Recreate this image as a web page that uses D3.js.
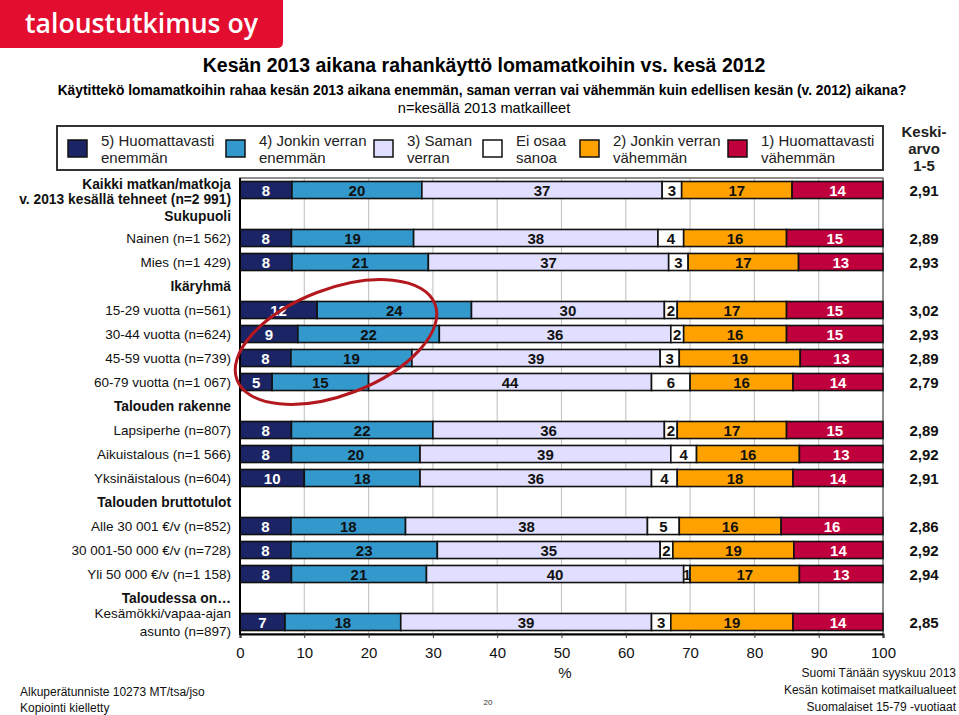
<!DOCTYPE html>
<html><head><meta charset="utf-8">
<script src="https://cdn.jsdelivr.net/npm/d3@7"></script>
<style>
body{margin:0;background:#fff;}
svg{display:block;font-family:"Liberation Sans",Arial,sans-serif;}
</style></head>
<body><svg id="c" width="959" height="715"></svg>
<script>
// ---------- DATA ----------
const rowOrder = ["Kaikki","Sukupuoli","Nainen","Mies","Ikäryhmä","15-29","30-44","45-59","60-79",
  "Talouden rakenne","Lapsiperhe","Aikuistalous","Yksinäistalous","Talouden bruttotulot",
  "Alle 30 001","30 001-50 000","Yli 50 000","Taloudessa on…","Kesämökki"];
const headerRows = ["Sukupuoli","Ikäryhmä","Talouden rakenne","Talouden bruttotulot","Taloudessa on…"];
const categories = ["Kaikki","Nainen","Mies","15-29","30-44","45-59","60-79","Lapsiperhe","Aikuistalous",
  "Yksinäistalous","Alle 30 001","30 001-50 000","Yli 50 000","Kesämökki"];
const categoryLabels = [
  ["Kaikki matkan/matkoja","v. 2013 kesällä tehneet (n=2 991)"],
  ["Nainen (n=1 562)"],["Mies (n=1 429)"],
  ["15-29 vuotta (n=561)"],["30-44 vuotta (n=624)"],["45-59 vuotta (n=739)"],["60-79 vuotta (n=1 067)"],
  ["Lapsiperhe (n=807)"],["Aikuistalous (n=1 566)"],["Yksinäistalous (n=604)"],
  ["Alle 30 001 €/v (n=852)"],["30 001-50 000 €/v (n=728)"],["Yli 50 000 €/v (n=1 158)"],
  ["Kesämökki/vapaa-ajan","asunto (n=897)"]];
const s5   = [8,8,8,12,9,8,5,8,8,10,8,8,8,7];
const s4   = [20,19,21,24,22,19,15,22,20,18,18,23,21,18];
const s3   = [37,38,37,30,36,39,44,36,39,36,38,35,40,39];
const sEos = [3,4,3,2,2,3,6,2,4,4,5,2,1,3];
const s2   = [17,16,17,17,16,19,16,17,16,18,16,19,17,19];
const s1   = [14,15,13,15,15,13,14,15,13,14,16,14,13,14];
const means = ["2,91","2,89","2,93","3,02","2,93","2,89","2,79","2,89","2,92","2,91","2,86","2,92","2,94","2,85"];
const seriesNames = ["5) Huomattavasti|enemmän","4) Jonkin verran|enemmän","3) Saman|verran","Ei osaa|sanoa","2) Jonkin verran|vähemmän","1) Huomattavasti|vähemmän"];
const seriesColors = ["#1b2464","#3399cc","#e1dfff","#ffffff","#ffa200","#c0003c"];
const labelColors = ["#fff","#111","#111","#111","#111","#fff"];
const xTicks = [0,10,20,30,40,50,60,70,80,90,100];

// ---------- CHART ----------
const svg = d3.select("#c");
const keys = ["s5","s4","s3","sEos","s2","s1"];
const table = categories.map((c,i)=>({cat:c,s5:s5[i],s4:s4[i],s3:s3[i],sEos:sEos[i],s2:s2[i],s1:s1[i]}));
const stacked = d3.stack().keys(keys).offset(d3.stackOffsetExpand)(table);

const x = d3.scaleLinear().domain([0,1]).range([240,883]);
const xAx = d3.scaleLinear().domain([0,100]).range([240,883]);
const y = d3.scaleBand().domain(rowOrder).range([178,634]).paddingInner(0.29).paddingOuter(0.145);
const yc = r => y(r)+y.bandwidth()/2;

// Logo
svg.append("path").attr("d","M0,0H283V42Q283,48 277,48H0Z").attr("fill","#e30d2f");
svg.append("text").attr("x",25).attr("y",33).attr("fill","#fff")
  .attr("font-family","'Open Sans',sans-serif").attr("font-weight",600).attr("font-size",27)
  .attr("textLength",233).attr("lengthAdjust","spacingAndGlyphs").text("taloustutkimus oy");

// Titles
svg.append("text").attr("x",484).attr("y",72).attr("text-anchor","middle").attr("font-weight","bold")
  .attr("font-size",19.5).text("Kesän 2013 aikana rahankäyttö lomamatkoihin vs. kesä 2012");
svg.append("text").attr("x",482).attr("y",95).attr("text-anchor","middle").attr("font-weight","bold")
  .attr("font-size",13.8).text("Käytittekö lomamatkoihin rahaa kesän 2013 aikana enemmän, saman verran vai vähemmän kuin edellisen kesän (v. 2012) aikana?");
svg.append("text").attr("x",484).attr("y",113).attr("text-anchor","middle")
  .attr("font-size",14.6).text("n=kesällä 2013 matkailleet");

// Legend
svg.append("rect").attr("x",57).attr("y",126).attr("width",826).attr("height",44)
  .attr("fill","#fff").attr("stroke","#333").attr("stroke-width",2);
const legX = [68,226,374,483,580,728];
seriesNames.forEach((n,i)=>{
  const g = svg.append("g");
  g.append("rect").attr("x",legX[i]).attr("y",140).attr("width",19).attr("height",17)
    .attr("fill",seriesColors[i]).attr("stroke","#111").attr("stroke-width",1.5);
  n.split("|").forEach((t,j)=>{
    g.append("text").attr("x",legX[i]+33).attr("y",146+j*17).attr("font-size",15).attr("fill","#222").text(t);
  });
});
["Keski-","arvo","1-5"].forEach((t,j)=>{
  svg.append("text").attr("x",924).attr("y",137+j*17).attr("text-anchor","middle")
    .attr("font-weight","bold").attr("font-size",15).attr("fill","#222").text(t);
});

// Gridlines
svg.append("g").selectAll("line").data(xTicks.slice(1,-1)).join("line")
  .attr("x1",d=>xAx(d)).attr("x2",d=>xAx(d)).attr("y1",178).attr("y2",634)
  .attr("stroke","#c8c8c8").attr("stroke-width",1.2);
svg.append("rect").attr("x",240).attr("y",178).attr("width",643).attr("height",456)
  .attr("fill","none").attr("stroke","#444").attr("stroke-width",1.2);

// Bars
const gBars = svg.append("g");
stacked.forEach((layer,k)=>{
  gBars.append("g").selectAll("rect").data(layer).join("rect")
    .attr("x",d=>x(d[0])).attr("width",d=>x(d[1])-x(d[0]))
    .attr("y",d=>y(d.data.cat)).attr("height",y.bandwidth())
    .attr("fill",seriesColors[k]).attr("stroke","#111").attr("stroke-width",1.6);
});
stacked.forEach((layer,k)=>{
  gBars.append("g").selectAll("text").data(layer).join("text")
    .attr("x",d=>(x(d[0])+x(d[1]))/2).attr("y",d=>yc(d.data.cat)+5.5)
    .attr("text-anchor","middle").attr("font-weight","bold").attr("font-size",15)
    .attr("fill",labelColors[k]).text(d=>d.data[keys[k]]);
});

// Axis
const axis = d3.axisBottom(xAx).tickValues(xTicks).tickSize(4).tickFormat(d3.format("d"));
const ga = svg.append("g").attr("transform","translate(0,634)").call(axis);
ga.select(".domain").attr("stroke","#000").attr("stroke-width",2);
ga.selectAll(".tick line").attr("stroke","#333");
ga.selectAll("text").attr("font-size",15).attr("fill","#111").attr("font-family","'Liberation Sans',Arial,sans-serif").attr("dy","1.1em");
svg.append("line").attr("x1",240).attr("x2",240).attr("y1",178).attr("y2",635).attr("stroke","#000").attr("stroke-width",2);
svg.append("text").attr("x",565).attr("y",678).attr("text-anchor","middle").attr("font-size",15).attr("fill","#111").text("%");

// Category labels
categories.forEach((c,i)=>{
  const lines = categoryLabels[i];
  const bold = i===0;
  const off = lines.length===1 ? [5] : (bold ? [-1,14] : [-4,14]);
  lines.forEach((t,j)=>{
    svg.append("text").attr("x",231).attr("y",yc(c)+off[j]).attr("text-anchor","end")
      .attr("font-size",bold?13.8:13.5).attr("font-weight",bold?"bold":"normal").attr("fill","#111").text(t);
  });
  svg.append("text").attr("x",924).attr("y",yc(c)+5.5).attr("text-anchor","middle")
    .attr("font-weight","bold").attr("font-size",15).attr("fill","#111").text(means[i]);
});
headerRows.forEach(h=>{
  svg.append("text").attr("x",231).attr("y",yc(h)+(h==="Sukupuoli"?7:5)).attr("text-anchor","end")
    .attr("font-size",13.8).attr("font-weight","bold").attr("fill","#111").text(h);
});

// Annotation ellipse
svg.append("ellipse").attr("cx",336).attr("cy",342).attr("rx",106).attr("ry",53)
  .attr("transform","rotate(-21,336,342)").attr("fill","none").attr("stroke","#b3181f").attr("stroke-width",3);

// Footer
svg.append("text").attr("x",20).attr("y",696).attr("font-size",12).attr("fill","#111").text("Alkuperätunniste 10273 MT/tsa/jso");
svg.append("text").attr("x",20).attr("y",712).attr("font-size",12).attr("fill","#111").text("Kopiointi kielletty");
svg.append("text").attr("x",488).attr("y",705).attr("text-anchor","middle").attr("font-size",8).attr("fill","#333").text("20");
["Suomi Tänään syyskuu 2013","Kesän kotimaiset matkailualueet","Suomalaiset 15-79 -vuotiaat"].forEach((t,j)=>{
  svg.append("text").attr("x",956).attr("y",677+j*17).attr("text-anchor","end").attr("font-size",12).attr("fill","#111").text(t);
});
</script></body></html>
